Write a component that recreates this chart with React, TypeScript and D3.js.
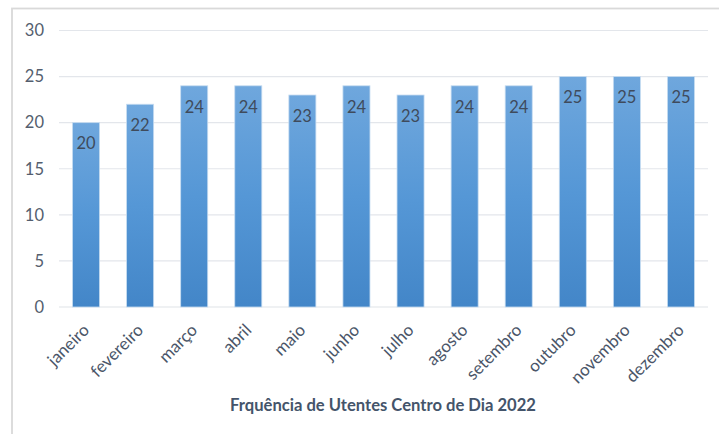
import React from "react";
import * as d3 from "d3";

const months = ["janeiro","fevereiro","março","abril","maio","junho","julho","agosto","setembro","outubro","novembro","dezembro"];
const values = [20,22,24,24,23,24,23,24,24,25,25,25];
const yTicks = [0,5,10,15,20,25,30];
const title = "Frquência de Utentes Centro de Dia 2022";

const W = 719, H = 434;
const font = "Lato, 'Open Sans', sans-serif";

export default function App() {
  const x = d3.scaleBand<string>().domain(months).range([59, 708]).paddingInner(0.5).paddingOuter(0.25);
  const y = d3.scaleLinear().domain([0, 30]).range([307, 30.5]);
  return (
    <svg width={W} height={H} style={{ position: "absolute", left: 0, top: 0, background: "#fff" }}>
      <defs>
        <linearGradient id="bg" x1="0" y1="0" x2="0" y2="1">
          <stop offset="0%" stopColor="#6FA7DD" />
          <stop offset="50%" stopColor="#5597D6" />
          <stop offset="100%" stopColor="#4386C8" />
        </linearGradient>
      </defs>
      <rect x={12} y={8.5} width={W} height={H} fill="#fff" stroke="#D9D9D9" strokeWidth={1.8} />
      {yTicks.map(t => (
        <g key={t}>
          <line x1={59} x2={708} y1={y(t)} y2={y(t)} stroke={t === 0 ? "#E0E3E8" : "#E3E6EB"} strokeWidth={1.2} />
          <text x={44} y={y(t)} dy="0.35em" textAnchor="end" fontFamily={font} fontSize={16.5} fill="#545E6E">{t}</text>
        </g>
      ))}
      {months.map((m, i) => {
        const bx = x(m)!;
        const bw = x.bandwidth();
        return (
          <g key={m}>
            <rect x={bx} y={y(values[i])} width={bw} height={y(0) - y(values[i])} fill="url(#bg)" stroke="#C6DCF1" strokeWidth={0.8} />
            <text x={bx + bw / 2} y={y(values[i]) + 21} dy="0.35em" textAnchor="middle" fontFamily={font} fontSize={16.5} fill="#3F4B5C">{values[i]}</text>
            <text transform={`translate(${bx + bw / 2},${327}) rotate(-45)`} textAnchor="end" dy="0.35em" fontFamily={font} fontSize={17} fill="#4A5568">{m}</text>
          </g>
        );
      })}
      <text x={383} y={405} dy="0.35em" textAnchor="middle" fontFamily={font} fontSize={16.6} fontWeight="bold" fill="#44546A">{title}</text>
    </svg>
  );
}
